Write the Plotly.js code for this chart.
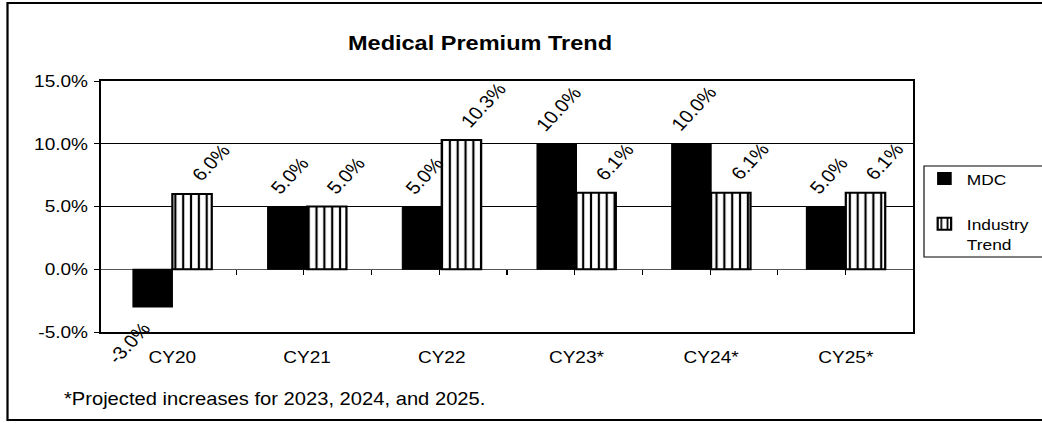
<!DOCTYPE html>
<html>
<head>
<meta charset="utf-8">
<script src="https://cdn.plot.ly/plotly-3.0.1.min.js"></script>
<style>
  html, body { margin: 0; padding: 0; background: #fff; overflow: hidden; }
  #wrap { width: 1042px; height: 423px; overflow: hidden; position: relative; }
  #chart { width: 930px; height: 423px; transform-origin: 0 0; }
</style>
</head>
<body>
<div id="wrap"><div id="chart"></div></div>
<script>
// ---- data ----
const categories = ['CY20', 'CY21', 'CY22', 'CY23*', 'CY24*', 'CY25*'];
const mdcValues = [-3.0, 5.0, 5.0, 10.0, 10.0, 5.0];
const industryValues = [6.0, 5.0, 10.3, 6.1, 6.1, 6.1];
const seriesNames = ['MDC', 'Industry<br>Trend'];
const titleText = 'Medical Premium Trend';
const footnoteText = '*Projected increases for 2023, 2024, and 2025.';
const yTickValues = [-5, 0, 5, 10, 15];
const yTickLabels = ['-5.0%', '0.0%', '5.0%', '10.0%', '15.0%'];

// ---- geometry ----
const W = 930, H = 423;
const S = 1042 / W;               // horizontal stretch of the page
document.getElementById('chart').style.transform = 'scaleX(' + S + ')';
const M = { l: 90, r: 115, t: 81, b: 91 };
const PW = W - M.l - M.r, PH = H - M.t - M.b;
const BARGAP = 0.415;
const catW = PW / categories.length;
const barW = catW * (1 - BARGAP) / 2;
const px = v => (v / S - M.l) / PW;          // screen x -> paper
const py = v => (H - M.b - v) / PH;          // screen y -> paper

const FONT = 'Liberation Sans, Arial, sans-serif';

const traces = [
  {
    type: 'bar', name: seriesNames[0], x: categories, y: mdcValues,
    legendgroup: 'a',
    marker: { color: '#000', line: { color: '#000', width: 1 } },
    hoverinfo: 'skip'
  },
  {
    type: 'bar', name: seriesNames[1], x: categories, y: industryValues,
    legendgroup: 'b',
    marker: {
      color: '#fff',
      pattern: { shape: '|', fgcolor: '#000', bgcolor: '#fff', size: 7, solidity: 0.28 },
      line: { color: '#000', width: 2 }
    },
    hoverinfo: 'skip'
  },
  { type: 'scatter', x: [], y: [], xaxis: 'x2', yaxis: 'y', showlegend: false, hoverinfo: 'skip' }
];

// value labels
const annotations = [];
function addLabels(vals, side) {
  vals.forEach((v, i) => {
    const center = side * barW / 2;
    const pos = v >= 0;
    let xanchor, xshift;
    if (!pos) { xanchor = 'right'; xshift = center + 5; }
    else if (side < 0) { xanchor = 'center'; xshift = center + 2; }
    else { xanchor = 'left'; xshift = center - 7; }
    annotations.push({
      x: categories[i], y: v, xref: 'x', yref: 'y',
      text: v.toFixed(1) + '%', showarrow: false, textangle: -50,
      xanchor: xanchor, yanchor: pos ? 'bottom' : 'top',
      xshift: xshift, yshift: pos ? 6 : -9,
      font: { family: FONT, size: 18, color: '#000' }
    });
  });
}
addLabels(mdcValues, -1);
addLabels(industryValues, 1);
annotations.push({
  xref: 'paper', yref: 'paper', x: px(62), y: py(399),
  xanchor: 'left', yanchor: 'middle', showarrow: false,
  text: footnoteText, font: { family: FONT, size: 18, color: '#000' }
});

const layout = {
  width: W, height: H,
  margin: { l: M.l, r: M.r, t: M.t, b: M.b, autoexpand: false },
  paper_bgcolor: '#fff', plot_bgcolor: '#fff',
  font: { family: FONT, color: '#000' },
  title: {
    text: '<b>' + titleText + '</b>',
    xref: 'container', yref: 'container',
    x: 480 / S / W, y: 1 - 43 / H, xanchor: 'center', yanchor: 'middle',
    font: { family: FONT, size: 21, color: '#000' }
  },
  barmode: 'group', bargap: BARGAP, bargroupgap: 0,
  showlegend: true,
  legend: {
    x: px(922), y: py(162), xanchor: 'left', yanchor: 'top',
    bgcolor: 'rgba(0,0,0,0)', borderwidth: 0,
    valign: 'top', tracegroupgap: 22,
    font: { family: FONT, size: 15.5, color: '#000' }
  },
  xaxis: {
    type: 'category', categoryorder: 'array', categoryarray: categories,
    showline: true, linecolor: '#000', linewidth: 2, mirror: true,
    showgrid: false, ticks: '', zeroline: false,
    ticklabelstandoff: 9,
    tickfont: { family: FONT, size: 17, color: '#000' }
  },
  xaxis2: {
    overlaying: 'x', anchor: 'free', position: (0 - yTickValues[0]) / (yTickValues[yTickValues.length - 1] - yTickValues[0]),
    range: [-0.5, categories.length - 0.5], tick0: -0.5, dtick: 0.5,
    ticks: 'outside', ticklen: 5, tickwidth: 1, tickcolor: '#000',
    showticklabels: false, showgrid: false, zeroline: false, showline: false
  },
  yaxis: {
    range: [yTickValues[0], yTickValues[yTickValues.length - 1]],
    tickmode: 'array', tickvals: yTickValues, ticktext: yTickLabels,
    showline: true, linecolor: '#000', linewidth: 2, mirror: true,
    showgrid: true, gridcolor: '#000', gridwidth: 1,
    zeroline: true, zerolinecolor: '#555', zerolinewidth: 1,
    ticks: 'outside', ticklen: 4, tickcolor: '#000', tickwidth: 1,
    ticklabelstandoff: 2,
    tickfont: { family: FONT, size: 17, color: '#000' }
  },
  shapes: [
    { type: 'rect', xref: 'paper', yref: 'paper',
      x0: px(7.5), x1: 2, y0: py(420), y1: py(3),
      line: { color: '#000', width: 2 }, fillcolor: 'rgba(0,0,0,0)' },
    { type: 'rect', xref: 'paper', yref: 'paper',
      x0: px(924), x1: 2, y0: py(257), y1: py(166),
      line: { color: '#000', width: 1 }, fillcolor: 'rgba(0,0,0,0)' }
  ],
  annotations: annotations,
  hovermode: false
};

Plotly.newPlot('chart', traces, layout, { displayModeBar: false, staticPlot: true });
</script>
</body>
</html>
